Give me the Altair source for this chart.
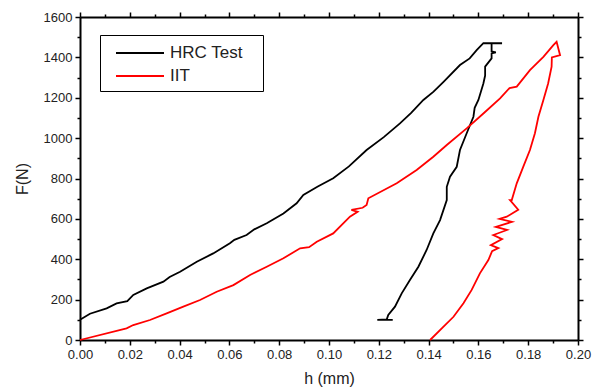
import altair as alt
import pandas as pd

# HRC Test (black): loading then unloading path
hrc_h = [0.0, 0.004, 0.0107, 0.0147, 0.019, 0.0214, 0.0268, 0.0335, 0.036, 0.0402,
         0.0469, 0.0535, 0.0602, 0.062, 0.0669, 0.070, 0.075, 0.0817, 0.087, 0.0897,
         0.0955, 0.1017, 0.108, 0.1151, 0.122, 0.1285, 0.133, 0.1379, 0.142, 0.146,
         0.1526, 0.1565, 0.1593, 0.162, 0.1695,
         0.1653, 0.1653, 0.167, 0.1653, 0.1653, 0.1627, 0.1627, 0.162, 0.160, 0.1585,
         0.158, 0.1553, 0.1526, 0.1513, 0.1486, 0.1473, 0.1473, 0.1446, 0.1419, 0.1392,
         0.1359, 0.1325, 0.1292, 0.1265, 0.1238, 0.1232, 0.1194, 0.1256]
hrc_f = [100, 130, 157, 181, 192, 223, 256, 289, 312, 338,
         388, 429, 479, 496, 520, 548, 578, 627, 677, 718,
         760, 801, 860, 941, 1005, 1073, 1125, 1189, 1230, 1279,
         1362, 1395, 1436, 1470, 1470,
         1470, 1430, 1425, 1420, 1395, 1354, 1310, 1271, 1189, 1150,
         1106, 1024, 941, 858, 809, 759, 693, 594, 528, 446,
         363, 297, 231, 165, 124, 102, 100, 100]

# IIT (red): loading then unloading path
iit_h = [0.0, 0.0187, 0.0214, 0.0281, 0.0348, 0.0415, 0.0482, 0.0549, 0.0616, 0.0683,
         0.075, 0.0817, 0.0884, 0.092, 0.0951, 0.1017, 0.1084, 0.1115, 0.109, 0.1135,
         0.1151, 0.1158, 0.1272, 0.1352, 0.1419, 0.1473, 0.1553, 0.162, 0.1687, 0.1725,
         0.1754, 0.1807, 0.1861, 0.1901, 0.1914,
         0.1928, 0.1895, 0.1894, 0.188, 0.1861, 0.1841, 0.1827, 0.1807, 0.178, 0.1754,
         0.1734, 0.1727, 0.176, 0.1714, 0.1685, 0.1735, 0.167, 0.1715, 0.166, 0.1695,
         0.165, 0.168, 0.1655, 0.164, 0.1606, 0.1573, 0.154, 0.150, 0.146, 0.1406]
iit_f = [0, 58, 74, 99, 132, 165, 198, 239, 272, 322,
         363, 405, 454, 460, 487, 528, 611, 635, 645, 655,
         669, 702, 776, 842, 908, 966, 1048, 1122, 1197, 1248,
         1255, 1337, 1403, 1461, 1477,
         1411, 1400, 1354, 1271, 1189, 1106, 1024, 941, 858, 776,
         693, 693, 645, 611, 600, 585, 560, 545, 520, 500,
         470, 455, 440, 396, 330, 248, 182, 115, 66, 0]

series = ["HRC Test", "IIT"]
colors = ["#000000", "#FF0000"]

rows = []
for name, hs, fs in [(series[0], hrc_h, hrc_f), (series[1], iit_h, iit_f)]:
    for i, (h, f) in enumerate(zip(hs, fs)):
        rows.append({"series": name, "h": h, "F": f, "idx": i})
df = pd.DataFrame(rows)

FONT = "Liberation Sans"
xmajor = "abs(datum.value*100 - 2*round(datum.value*50)) < 0.01"
ymajor = "abs(datum.value - 200*round(datum.value/200)) < 0.5"

xvals = [round(i * 0.01, 2) for i in range(21)]
yvals = list(range(0, 1601, 100))

xscale = alt.Scale(domain=[0, 0.2], nice=False, zero=False)
yscale = alt.Scale(domain=[0, 1600], nice=False, zero=False)

main = alt.Chart(df).mark_line(strokeWidth=1.8).encode(
    x=alt.X("h:Q", scale=xscale, title="h (mm)",
            axis=alt.Axis(orient="bottom", values=xvals, format=".2f",
                          labelExpr=f"({xmajor}) ? datum.label : ''",
                          tickSize={"condition": {"test": xmajor, "value": 5}, "value": 3},
                          grid=False, domainWidth=2, domainColor="black",
                          tickColor="black", tickWidth=1.5,
                          labelFont=FONT, labelFontSize=13, labelColor="#222",
                          titleFont=FONT, titleFontSize=16, titleFontWeight="normal",
                          titleColor="#222", titlePadding=9, labelPadding=3,
                          labelFlush=False)),
    y=alt.Y("F:Q", scale=yscale, title="F(N)",
            axis=alt.Axis(orient="left", values=yvals, format="d",
                          labelExpr=f"({ymajor}) ? datum.label : ''",
                          tickSize={"condition": {"test": ymajor, "value": 5}, "value": 3},
                          grid=False, domainWidth=2, domainColor="black",
                          tickColor="black", tickWidth=1.5,
                          labelFont=FONT, labelFontSize=13, labelColor="#222",
                          titleFont=FONT, titleFontSize=16, titleFontWeight="normal",
                          titleColor="#222", titlePadding=13, labelPadding=3,
                          labelFlush=False)),
    color=alt.Color("series:N",
                    scale=alt.Scale(domain=series, range=colors),
                    legend=alt.Legend(title=None, orient="none", legendX=20, legendY=18,
                                      symbolType="M-0.2,0H4.6M13.4,0", symbolSize=400,
                                      symbolStrokeWidth=1.8,
                                      labelFont=FONT, labelFontSize=17, labelColor="#222",
                                      strokeColor="black", padding=7,
                                      rowPadding=4, labelOffset=41,
                                      fillColor="white")),
    order=alt.Order("idx:Q"),
)

frame = alt.Chart(df).mark_line(opacity=0).encode(
    x=alt.X("h:Q", scale=xscale, title=None,
            axis=alt.Axis(orient="top", values=xvals, labels=False,
                          tickSize={"condition": {"test": xmajor, "value": 5}, "value": 3},
                          grid=False, domainWidth=2, domainColor="black",
                          tickColor="black", tickWidth=1.5)),
    y=alt.Y("F:Q", scale=yscale, title=None,
            axis=alt.Axis(orient="right", values=yvals, labels=False,
                          tickSize={"condition": {"test": ymajor, "value": 5}, "value": 3},
                          grid=False, domainWidth=2, domainColor="black",
                          tickColor="black", tickWidth=1.5)),
    detail="series:N",
    order=alt.Order("idx:Q"),
)

chart = alt.layer(main, frame).resolve_scale(x="independent", y="independent").properties(
    width=498, height=323,
    autosize=alt.AutoSizeParams(type="none"),
    padding={"left": 80, "top": 17, "right": 16, "bottom": 49},
).configure_view(stroke=None).configure(background="white")

chart.save("out.html", embed_options={"renderer": "svg", "actions": False})
